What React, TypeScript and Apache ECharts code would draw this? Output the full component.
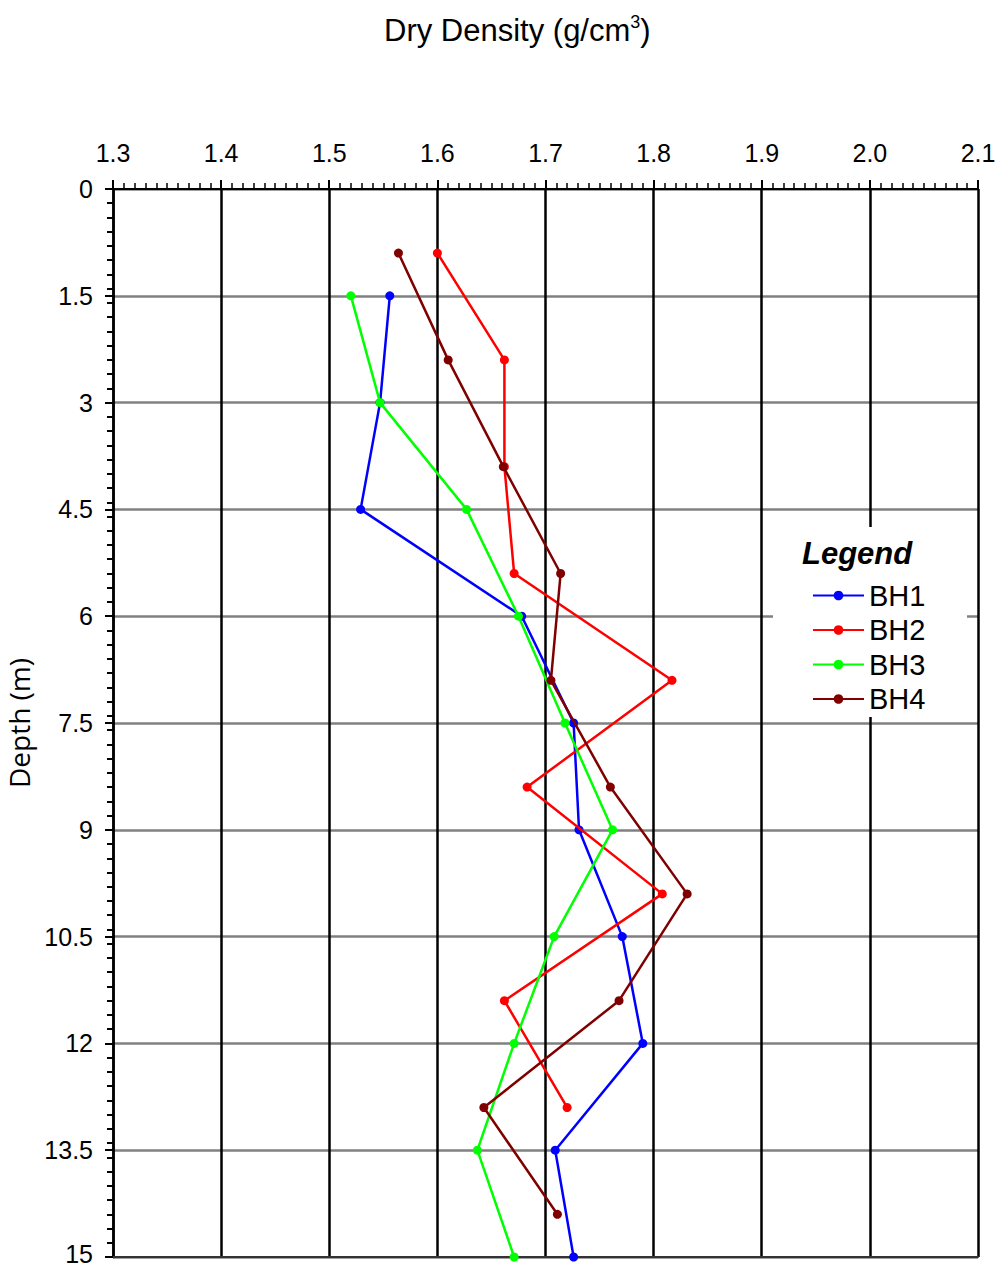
import React, { useEffect, useRef } from "react";
import * as echarts from "echarts";

const xTicks = [1.3, 1.4, 1.5, 1.6, 1.7, 1.8, 1.9, 2.0, 2.1];
const yTicks = [0, 1.5, 3, 4.5, 6, 7.5, 9, 10.5, 12, 13.5, 15];

const seriesNames = ["BH1", "BH2", "BH3", "BH4"];
const seriesColors = ["#0000FF", "#FF0000", "#00FF00", "#800000"];

const bh1Depth = [1.5, 3, 4.5, 6, 7.5, 9, 10.5, 12, 13.5, 15];
const bh1Density = [1.556, 1.547, 1.529, 1.678, 1.726, 1.731, 1.771, 1.79, 1.709, 1.726];

const bh2Depth = [0.9, 2.4, 3.9, 5.4, 6.9, 8.4, 9.9, 11.4, 12.9];
const bh2Density = [1.6, 1.662, 1.662, 1.671, 1.817, 1.683, 1.808, 1.662, 1.72];

const bh3Depth = [1.5, 3, 4.5, 6, 7.5, 9, 10.5, 12, 13.5, 15];
const bh3Density = [1.52, 1.547, 1.627, 1.675, 1.718, 1.762, 1.708, 1.671, 1.637, 1.671];

const bh4Depth = [0.9, 2.4, 3.9, 5.4, 6.9, 8.4, 9.9, 11.4, 12.9, 14.4];
const bh4Density = [1.564, 1.61, 1.661, 1.714, 1.705, 1.76, 1.831, 1.768, 1.643, 1.711];

const depths = [bh1Depth, bh2Depth, bh3Depth, bh4Depth];
const densities = [bh1Density, bh2Density, bh3Density, bh4Density];

const FONT = "'Liberation Sans', Arial, sans-serif";

export default function App() {
  const ref = useRef<HTMLDivElement>(null);

  useEffect(() => {
    if (!ref.current) return;
    const chart = echarts.init(ref.current, undefined, { renderer: "svg" });

    const series = seriesNames.map((name, i) => ({
      name,
      type: "line",
      xAxisIndex: 0,
      yAxisIndex: 0,
      data: densities[i].map((d, j) => [d, depths[i][j]]),
      symbol: "circle",
      symbolSize: 9,
      showSymbol: true,
      color: seriesColors[i],
      lineStyle: { color: seriesColors[i], width: 2.5 },
      itemStyle: { color: seriesColors[i] },
      z: 2 + i * 0.01,
    }));

    const yMax = yTicks[yTicks.length - 1];

    const option: any = {
      animation: false,
      backgroundColor: "#ffffff",
      textStyle: { fontFamily: FONT },
      title: {
        text: "Dry Density (g/cm{sup|3})",
        left: 379,
        top: 8,
        textStyle: {
          fontFamily: FONT,
          fontSize: 31,
          fontWeight: "normal",
          color: "#000",
          rich: {
            sup: {
              fontFamily: FONT,
              fontSize: 18,
              color: "#000",
              verticalAlign: "top",
              padding: [0, 0, 16, 0],
            },
          },
        },
      },
      grid: {
        left: 113,
        top: 189,
        right: 21,
        bottom: 11,
        containLabel: false,
        outerBoundsMode: "none",
      },
      xAxis: [
        {
          type: "value",
          position: "top",
          min: xTicks[0],
          max: xTicks[xTicks.length - 1],
          interval: 0.1,
          axisLine: { show: true, onZero: false, lineStyle: { color: "#000", width: 2 } },
          axisTick: { show: true, length: 9, lineStyle: { color: "#000", width: 2 } },
          minorTick: { show: true, splitNumber: 10, length: 6, lineStyle: { color: "#000", width: 1.5 } },
          axisLabel: {
            margin: 24,
            fontSize: 25,
            fontFamily: FONT,
            color: "#000",
            formatter: (v: number) => v.toFixed(1),
          },
          splitLine: { show: true, lineStyle: { color: "#000", width: 2.5 } },
        },
        {
          type: "value",
          position: "bottom",
          min: xTicks[0],
          max: xTicks[xTicks.length - 1],
          axisLine: { show: true, onZero: false, lineStyle: { color: "#333", width: 2 } },
          axisTick: { show: false },
          axisLabel: { show: false },
          splitLine: { show: false },
        },
      ],
      yAxis: [
        {
          type: "value",
          inverse: true,
          position: "left",
          min: yTicks[0],
          max: yMax,
          interval: 1.5,
          name: "Depth (m)",
          nameLocation: "middle",
          nameGap: 70,
          nameTextStyle: { fontFamily: "'Open Sans', sans-serif", fontSize: 28, color: "#000" },
          axisLine: { show: true, onZero: false, lineStyle: { color: "#000", width: 2.5 } },
          axisTick: { show: true, length: 8, lineStyle: { color: "#000", width: 2 } },
          axisLabel: {
            margin: 20,
            fontSize: 25,
            fontFamily: FONT,
            color: "#000",
            formatter: (v: number) => (v === yMax ? "{last|" + v + "}" : String(v)),
            rich: {
              last: {
                fontSize: 25,
                fontFamily: FONT,
                color: "#000",
                padding: [0, 0, 7, 0],
              },
            },
          },
          splitLine: { show: true, lineStyle: { color: "#808080", width: 2.5 } },
        },
        {
          type: "value",
          inverse: true,
          position: "left",
          min: 0,
          max: 15,
          interval: 0.2,
          axisLine: { show: false },
          axisTick: { show: true, length: 6, lineStyle: { color: "#000", width: 2 } },
          axisLabel: { show: false },
          splitLine: { show: false },
        },
      ],
      legend: {
        data: seriesNames,
        orient: "vertical",
        left: 807,
        top: 576,
        itemWidth: 51,
        itemHeight: 12,
        itemGap: 5.5,
        textStyle: { fontFamily: FONT, fontSize: 29, color: "#000", lineHeight: 28 },
        z: 6,
      },
      graphic: [
        {
          type: "rect",
          z: 5,
          shape: { x: 773, y: 527, width: 194, height: 190 },
          style: { fill: "#ffffff" },
        },
        {
          type: "text",
          z: 7,
          x: 802,
          y: 553,
          style: {
            text: "Legend",
            fontFamily: FONT,
            fontSize: 31,
            fontWeight: "bold",
            fontStyle: "italic",
            fill: "#000",
            verticalAlign: "middle",
          },
        },
      ],
      series,
    };

    chart.setOption(option);
    return () => chart.dispose();
  }, []);

  return (
    <div
      ref={ref}
      style={{ position: "absolute", left: 0, top: 0, width: 999, height: 1268 }}
    />
  );
}
